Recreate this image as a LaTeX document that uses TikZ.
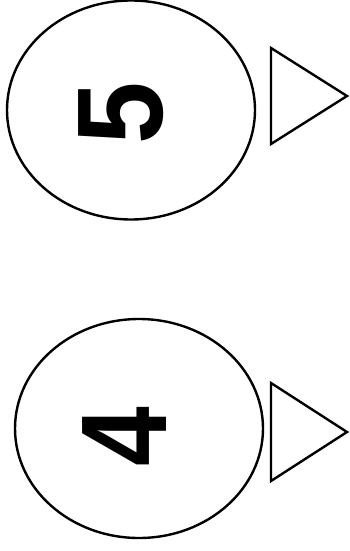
\documentclass[tikz,border=0pt]{standalone}
\usepackage{fontspec}
\setmainfont{Liberation Sans}
\usetikzlibrary{shapes.geometric}
\begin{document}
\begin{tikzpicture}[x=1pt,y=-1pt,
  oval/.style={draw=black,line width=2.4pt,ellipse,minimum width=248pt,minimum height=219pt,inner sep=0pt},
  digit/.style={font=\fontsize{122}{122}\selectfont\bfseries,rotate=90,inner sep=0pt},
  tri/.style={draw=black,line width=2.4pt,line join=miter}]
\useasboundingbox (0,0) rectangle (349,551);
\node[oval] (e5) at (131,110) {};
\node[digit] (d5) at (121,113) {\scalebox{0.92}[1]{5}};
\node[oval] (e4) at (139,428.5) {};
\node[digit] (d4) at (124.5,436.5) {\scalebox{0.88}[1]{4}};
\draw[tri] (271,48) -- (347,96) -- (271,144) -- cycle;
\draw[tri] (271,383) -- (347,432) -- (271,481) -- cycle;
\end{tikzpicture}
\end{document}
